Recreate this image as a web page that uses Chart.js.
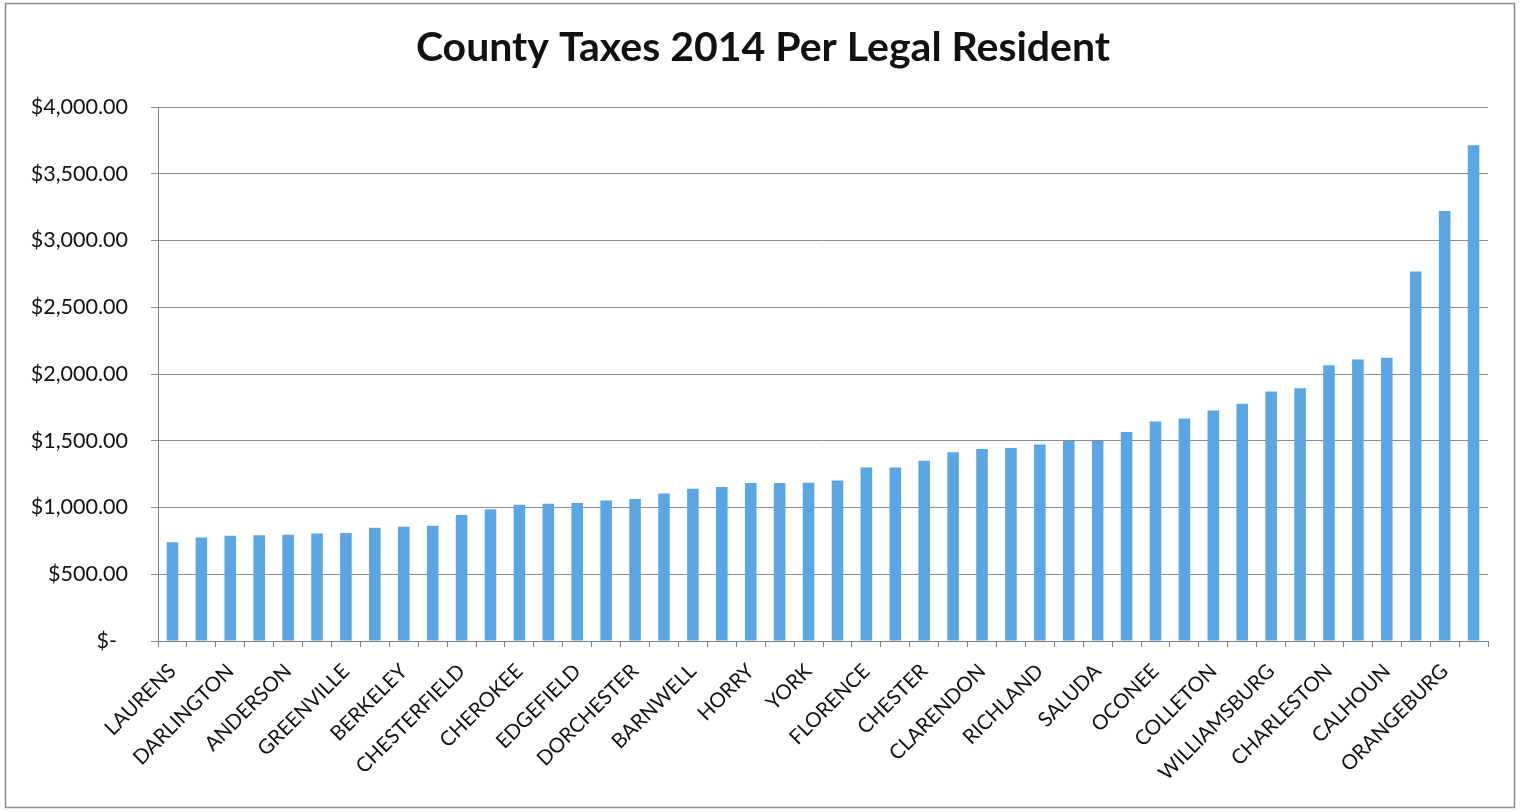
<!DOCTYPE html>
<html>
<head>
<meta charset="utf-8">
<script src="https://cdn.jsdelivr.net/npm/chart.js@4.4.1/dist/chart.umd.min.js"></script>
<style>
  html, body { margin: 0; padding: 0; background: #ffffff; }
  #wrap { position: absolute; left: 0; top: 0; width: 1520px; height: 812px; }
</style>
</head>
<body>
<div id="wrap"><canvas id="c" width="1520" height="812"></canvas></div>
<script>
// Categories (only every other county is labelled in the original chart)
const counties = [
  "LAURENS", "", "DARLINGTON", "", "ANDERSON", "", "GREENVILLE", "", "BERKELEY", "",
  "CHESTERFIELD", "", "CHEROKEE", "", "EDGEFIELD", "", "DORCHESTER", "", "BARNWELL", "",
  "HORRY", "", "YORK", "", "FLORENCE", "", "CHESTER", "", "CLARENDON", "",
  "RICHLAND", "", "SALUDA", "", "OCONEE", "", "COLLETON", "", "WILLIAMSBURG", "",
  "CHARLESTON", "", "CALHOUN", "", "ORANGEBURG", ""
];
// County taxes 2014 per legal resident (USD)
const taxesPerResident = [
  739, 776, 788, 793, 796, 806, 809, 848, 856, 863,
  944, 986, 1020, 1028, 1033, 1053, 1063, 1105, 1140, 1153,
  1183, 1183, 1185, 1203, 1300, 1300, 1350, 1413, 1438, 1446,
  1472, 1498, 1498, 1565, 1645, 1667, 1726, 1777, 1868, 1894,
  2066, 2108, 2122, 2767, 3221, 3714
];
const yTicks = [0, 500, 1000, 1500, 2000, 2500, 3000, 3500, 4000];
const chartTitle = "County Taxes 2014 Per Legal Resident";

const PAD = { left: 12, right: 32, top: 107, bottom: 0 };

const framePlugin = {
  id: 'frame',
  beforeDraw(chart) {
    const ctx = chart.ctx;
    ctx.save();
    ctx.fillStyle = '#ffffff';
    ctx.fillRect(0, 0, chart.width, chart.height);
    ctx.restore();
  },
  afterDraw(chart) {
    const ctx = chart.ctx;
    ctx.save();
    // chart title
    ctx.fillStyle = '#111111';
    ctx.font = 'bold 41px Lato';
    ctx.textAlign = 'center';
    ctx.textBaseline = 'middle';
    ctx.fillText(chartTitle, 763, 48);
    // outer frame
    ctx.strokeStyle = '#8c8c8c';
    ctx.lineWidth = 1.5;
    ctx.strokeRect(5.5, 3.5, 1509, 804);
    ctx.restore();
  }
};

function fmtMoney(v) {
  if (v === 0) return '$-  ';
  return '$' + v.toLocaleString('en-US', { minimumFractionDigits: 2, maximumFractionDigits: 2 });
}

new Chart(document.getElementById('c'), {
  type: 'bar',
  data: {
    labels: counties,
    datasets: [{
      data: taxesPerResident,
      backgroundColor: '#5aa6e4',
      borderWidth: 0,
      categoryPercentage: 1.0,
      barPercentage: 0.4
    }]
  },
  options: {
    responsive: false,
    animation: false,
    devicePixelRatio: 1,
    layout: { padding: PAD },
    plugins: {
      legend: { display: false },
      tooltip: { enabled: false },
      title: { display: false }
    },
    scales: {
      x: {
        grid: {
          display: true,
          drawOnChartArea: false,
          drawTicks: true,
          tickLength: 6,
          offset: true,
          color: '#7f7f7f',
          lineWidth: 1
        },
        border: { display: true, color: '#7f7f7f', width: 1 },
        ticks: {
          autoSkip: false,
          maxRotation: 45,
          minRotation: 45,
          padding: 12,
          color: '#111111',
          font: { family: 'Lato', size: 20.5 }
        },
        afterFit(scale) { scale.height = 812 - 641 - PAD.bottom; }
      },
      y: {
        min: 0,
        max: 4000,
        afterBuildTicks(scale) { scale.ticks = yTicks.map(v => ({ value: v })); },
        grid: {
          color: '#8c8c8c',
          lineWidth: 1,
          drawTicks: true,
          tickLength: 7
        },
        border: { display: true, color: '#7f7f7f', width: 1 },
        ticks: {
          padding: 23,
          color: '#111111',
          font: { family: 'Lato', size: 21.5 },
          callback: (v) => fmtMoney(v)
        },
        afterFit(scale) { scale.width = 158 - PAD.left; }
      }
    }
  },
  plugins: [framePlugin]
});
</script>
</body>
</html>
